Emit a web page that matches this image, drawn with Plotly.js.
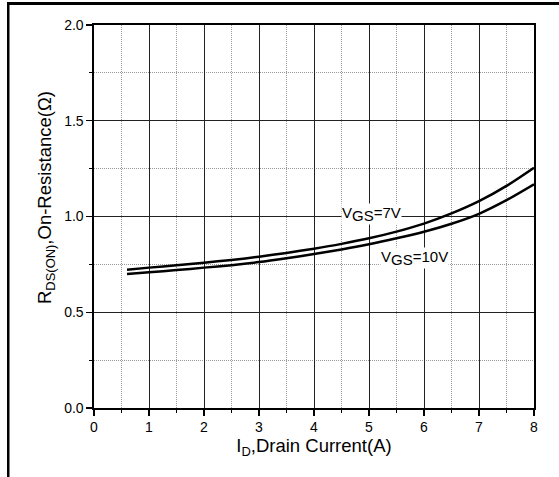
<!DOCTYPE html>
<html>
<head>
<meta charset="utf-8">
<script src="https://cdn.plot.ly/plotly-3.0.1.min.js"></script>
<style>
html,body{margin:0;padding:0;background:#fff;}
#chart{width:559px;height:477px;}
</style>
</head>
<body>
<div id="chart"></div>
<script>
// Drain current (A)
const currentA = [0.6, 1, 1.5, 2, 2.5, 3, 3.5, 4, 4.5, 5, 5.5, 6, 6.5, 7, 7.5, 8];
// On-resistance (Ohm), VGS = 7V
const rds7V = [0.722, 0.733, 0.745, 0.759, 0.773, 0.790, 0.810, 0.832, 0.857, 0.886, 0.921, 0.963, 1.016, 1.080, 1.160, 1.255];
// On-resistance (Ohm), VGS = 10V
const rds10V = [0.700, 0.709, 0.720, 0.733, 0.746, 0.762, 0.782, 0.804, 0.828, 0.855, 0.886, 0.920, 0.962, 1.014, 1.085, 1.168];
const seriesLabels = ["V<sub><span style='font-size:15px'>GS</span></sub>=7V", "V<sub><span style='font-size:15px'>GS</span></sub>=10V"];
const labelPos = [[5.04, 1.015], [5.82, 0.782]];

const FONT = "Arial, 'Liberation Sans', sans-serif";
const L = 94, R = 25, T = 25, B = 69, W = 559, H = 477;
const pw = W - L - R, ph = H - T - B;
const px = v => (v - L) / pw;
const py = v => (H - B - v) / ph;

const traces = [
  {x: currentA, y: rds7V, mode: 'lines', line: {color: '#000', width: 2.5, shape: 'spline', smoothing: 0.8}, hoverinfo: 'skip'},
  {x: currentA, y: rds10V, mode: 'lines', line: {color: '#000', width: 2.5, shape: 'spline', smoothing: 0.8}, hoverinfo: 'skip'}
];

const axisCommon = {
  showline: true, linecolor: '#000', linewidth: 1.6, mirror: true,
  ticks: 'outside', ticklen: 6, tickwidth: 1.2, tickcolor: '#000',
  showgrid: true, gridcolor: '#222', gridwidth: 1,
  zeroline: false,
  tickfont: {family: FONT, size: 14, color: '#000'},
  minor: {showgrid: true, gridcolor: '#999999', griddash: '1px,1px', gridwidth: 1, ticks: 'outside', ticklen: 3, tickcolor: '#000'}
};

const layout = {
  width: W, height: H,
  margin: {l: L, r: R, t: T, b: B, pad: 0},
  paper_bgcolor: '#fff', plot_bgcolor: '#fff',
  showlegend: false,
  font: {family: FONT, color: '#000'},
  xaxis: Object.assign({}, axisCommon, {
    range: [0, 8], dtick: 1, tick0: 0,
    minor: Object.assign({}, axisCommon.minor, {dtick: 0.5}),
    title: {text: 'I<sub>D</sub>,Drain Current(A)', font: {family: FONT, size: 18.5, color: '#000'}, standoff: 4}
  }),
  yaxis: Object.assign({}, axisCommon, {
    range: [0, 2], dtick: 0.5, tick0: 0, tickformat: '.1f',
    minor: Object.assign({}, axisCommon.minor, {dtick: 0.25})
  }),
  annotations: [
    {xref: 'paper', yref: 'paper', x: px(46), y: py(198), text: 'R<sub>DS(ON)</sub>,On-Resistance(Ω)',
     textangle: -90, showarrow: false, font: {family: FONT, size: 18.5, color: '#000'}, xanchor: 'center', yanchor: 'middle'},
    {x: labelPos[0][0], y: labelPos[0][1], text: seriesLabels[0], showarrow: false, bgcolor: '#fff',
     font: {family: FONT, size: 15, color: '#000'}, borderpad: 0},
    {x: labelPos[1][0], y: labelPos[1][1], text: seriesLabels[1], showarrow: false, bgcolor: '#fff',
     font: {family: FONT, size: 15, color: '#000'}, borderpad: 0}
  ],
  shapes: [
    {type: 'rect', xref: 'paper', yref: 'paper', x0: px(7), x1: px(9.5), y0: py(477), y1: py(2), fillcolor: '#000', line: {width: 0}},
    {type: 'rect', xref: 'paper', yref: 'paper', x0: px(7), x1: px(559), y0: py(5), y1: py(2), fillcolor: '#000', line: {width: 0}}
  ]
};

Plotly.newPlot('chart', traces, layout, {staticPlot: true, displayModeBar: false});
</script>
</body>
</html>
